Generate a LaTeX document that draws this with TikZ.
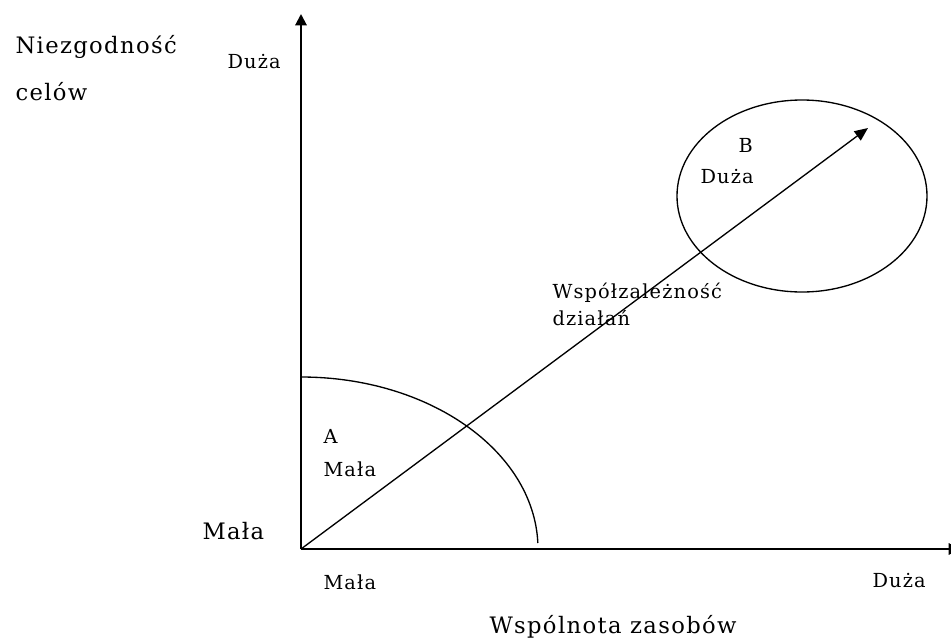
\documentclass[tikz,border=0pt]{standalone}
\usepackage{fontspec}
\usetikzlibrary{arrows.meta}
\newfontfamily\bigserif[LetterSpace=6]{DejaVu Serif}
\newfontfamily\smallserif[LetterSpace=6]{DejaVu Serif}
\tikzset{every picture/.style={line width=0.75pt}}
\tikzset{
  biglabel/.style={anchor=base west, inner sep=0pt, font=\bigserif\fontsize{17}{20}\selectfont},
  smalllabel/.style={anchor=base west, inner sep=0pt, font=\smallserif\fontsize{14.5}{17}\selectfont},
  axisline/.style={line width=1.5pt, -{Triangle[length=8.5pt, width=8.5pt]}},
  thinline/.style={line width=1pt}
}
\begin{document}
\begin{tikzpicture}[x=0.75pt,y=0.75pt,yscale=-1,xscale=1]
\useasboundingbox (0,0) rectangle (951,640);

%Coordinates
\coordinate (origin) at (301,549);
\coordinate (ytop) at (301,14);
\coordinate (xend) at (960,549);
\coordinate (tip) at (868,128);

%Axes
\draw [axisline] (origin) -- (ytop);
\draw [axisline] (origin) -- (xend);
%Straight Lines
\draw [thinline, -{Triangle[length=10pt, width=8.5pt]}] (origin) -- (tip);
%Shape: Arc
\draw [thinline] (origin) ++(0,-172) arc [start angle=-90, end angle=-2, x radius=237, y radius=172];
%Shape: Ellipse
\draw [thinline] (802,196) ellipse [x radius=125, y radius=96];

%Axis labels
\node [biglabel] (goal1) at (15,53) {Niezgodność};
\node [biglabel] (goal2) at (15,100) {celów};
\node [smalllabel] (yhigh) at (227,68) {Duża};
\node [biglabel] (ylow) at (202,539) {Mała};
\node [smalllabel] (xlow) at (323,589) {Mała};
\node [smalllabel] (xhigh) at (872,587) {Duża};
\node [biglabel] (xtitle) at (489,633) {Wspólnota zasobów};

%Region labels
\node [smalllabel] (regA) at (323,443) {A};
\node [smalllabel] (regAlow) at (323,476) {Mała};
\node [smalllabel] (regB) at (738,152) {B};
\node [smalllabel] (regBhigh) at (700,183) {Duża};
\node [smalllabel] (dep1) at (552,298) {Współzależność};
\node [smalllabel] (dep2) at (552,325) {działań};

\end{tikzpicture}
\end{document}
